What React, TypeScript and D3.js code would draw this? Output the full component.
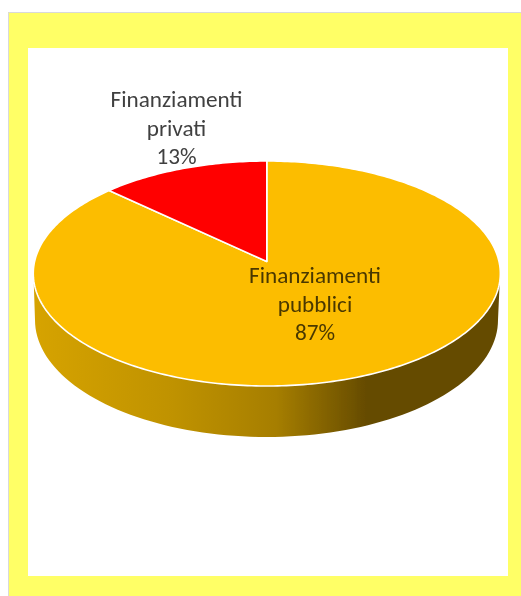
import React from "react";
import * as d3 from "d3";

const categories = ["Finanziamenti pubblici", "Finanziamenti privati"];
const shares = [87, 13];
const labelLines = [["Finanziamenti", "pubblici", "87%"], ["Finanziamenti", "privati", "13%"]];
const sliceColors = ["#FCBD00", "#FF0000"];
const sideStops: [number, string][] = [
  [0, "#D6A300"], [0.3, "#BF9200"], [0.52, "#A67E00"], [0.715, "#654B00"], [1, "#654B00"],
];

const W = 521, H = 596;
const cx = 266.8;
const R = 232.2;
const persp = -0.1067, yA = 83.3, yB = 261.5;

// circle to screen, with the perspective of the tilted pie
const project = (angle: number): [number, number] => {
  const u = Math.sin(angle), v = -Math.cos(angle);
  const d = 1 + persp * v;
  return [cx + (R * u) / d, (yA * v + yB) / d];
};

const pieGen = d3.pie<number>().sort(null).startAngle(0).endAngle(2 * Math.PI);
const arcs = pieGen(shares);
const line = d3.line();

const slicePath = (a: d3.PieArcDatum<number>) => {
  const n = Math.ceil((a.endAngle - a.startAngle) * 60);
  const pts = d3.range(n + 1).map((i) => project(a.startAngle + ((a.endAngle - a.startAngle) * i) / n));
  return line([[cx, yB], ...pts]) + "Z";
};

// side wall: lower rim, drawn from a narrower ellipse below the top face
const lowCx = 266.5, lowCy = 320, lowRx = 231.5, lowRy = 117;
const sidePath = () => {
  const pts = d3.range(0, 181, 2).map((deg) => {
    const t = (deg * Math.PI) / 180;
    return [lowCx - lowRx * Math.cos(t), lowCy + lowRy * Math.sin(t)] as [number, number];
  });
  return line([[33.8, 284], ...pts, [499.6, 284]]) + "Z";
};

const labelPos = [{ x: 315, y: 283 }, { x: 176.5, y: 107 }];
const lineStep = 28.6;

export default function App() {
  return (
    <svg width={W} height={H} viewBox={`0 0 ${W} ${H}`} style={{ position: "absolute", left: 0, top: 0 }}>
      <defs>
        <linearGradient id="side" gradientUnits="userSpaceOnUse" x1={35} x2={499} y1={0} y2={0}>
          {sideStops.map(([o, c]) => <stop key={o} offset={o} stopColor={c} />)}
        </linearGradient>
        <filter id="soft" x="-5%" y="-5%" width="110%" height="110%">
          <feGaussianBlur stdDeviation={0.45} />
        </filter>
      </defs>
      <rect x={0} y={0} width={W} height={H} fill="#fff" />
      <rect x={8} y={12} width={W - 8} height={H - 12} fill="#FFFF66" />
      <path d={`M8.5 ${H}V12.5H${W}`} fill="none" stroke="#D9D9D9" strokeWidth={1} />
      <rect x={28} y={48} width={480} height={528} fill="#fff" />
      <g filter="url(#soft)">
        <path d={sidePath()} fill="url(#side)" />
        {arcs.map((a, i) => (
          <path key={categories[i]} d={slicePath(a)} fill={sliceColors[i]} stroke="#fff" strokeWidth={1.6} strokeLinejoin="round" />
        ))}
      </g>
      <g fontFamily="Carlito, Lato, sans-serif" fontSize={23.2} textAnchor="middle" filter="url(#soft)">
        {labelLines.map((lines, i) => (
          <text key={i} x={labelPos[i].x} y={labelPos[i].y} fill={i === 0 ? "#4a3800" : "#404040"}>
            {lines.map((l, j) => (
              <tspan key={l} x={labelPos[i].x} y={labelPos[i].y + j * lineStep}>{l}</tspan>
            ))}
          </text>
        ))}
      </g>
    </svg>
  );
}
